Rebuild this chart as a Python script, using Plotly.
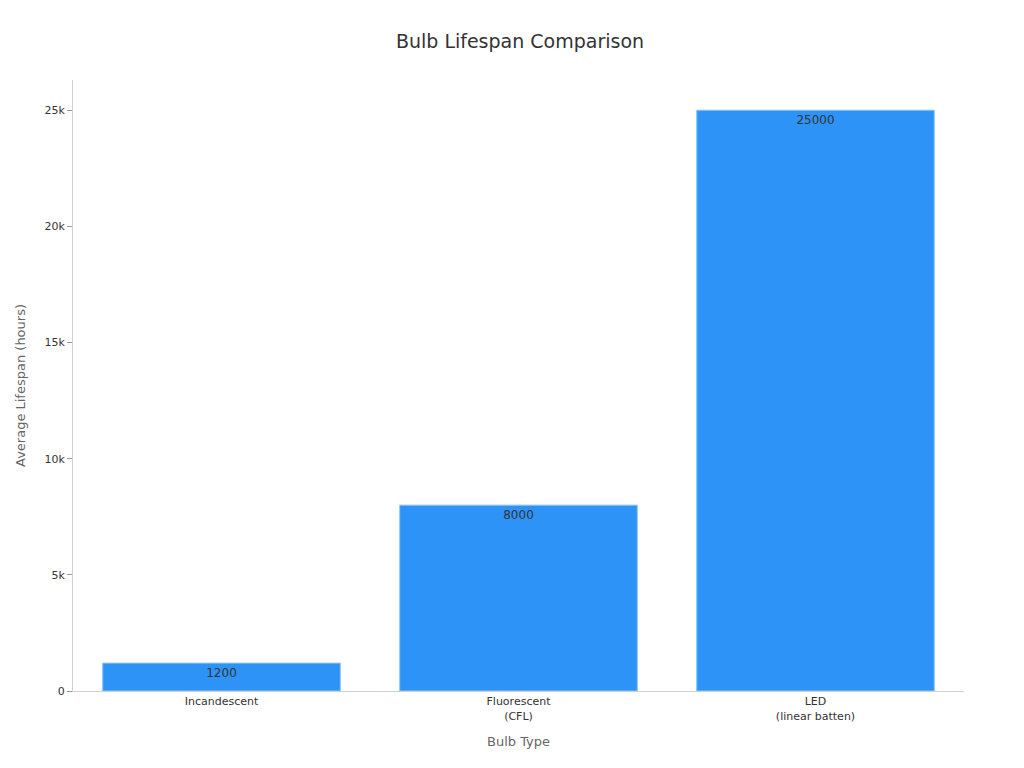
import plotly.graph_objects as go

bulb_types = ["Incandescent", "Fluorescent<br>(CFL)", "LED<br>(linear batten)"]
lifespan_hours = [1200, 8000, 25000]

fig = go.Figure()
fig.add_trace(go.Bar(
    x=bulb_types, y=lifespan_hours,
    text=lifespan_hours, textposition="inside", insidetextanchor="end",
    textfont=dict(color="#333333", size=12),
    marker=dict(color="#2E93F7", line=dict(color="#8CC4FA", width=1)),
    width=0.8,
))
fig.update_layout(
    width=1024, height=768,
    title=dict(text="Bulb Lifespan Comparison", x=0.5, y=0.965, xanchor="center",
               font=dict(size=19, color="#333333")),
    font=dict(family="DejaVu Sans, sans-serif", size=11, color="#333333"),
    plot_bgcolor="white", paper_bgcolor="white",
    margin=dict(l=59, r=68, t=72, b=85),
    showlegend=False,
)
fig.update_xaxes(title_text="Bulb Type", title_font=dict(size=13, color="#666666"),
                 showline=True, linecolor="#d0d0d0", showgrid=False)
fig.update_yaxes(title_text="Average Lifespan (hours)", title_font=dict(size=13, color="#666666"),
                 range=[0, 26300], tickvals=[0, 5000, 10000, 15000, 20000, 25000],
                 ticktext=["0", "5k", "10k", "15k", "20k", "25k"],
                 showline=True, linecolor="#d0d0d0", showgrid=False,
                 ticks="outside", tickcolor="#999999", ticklen=5, zeroline=False)
fig.write_html("out.html")
